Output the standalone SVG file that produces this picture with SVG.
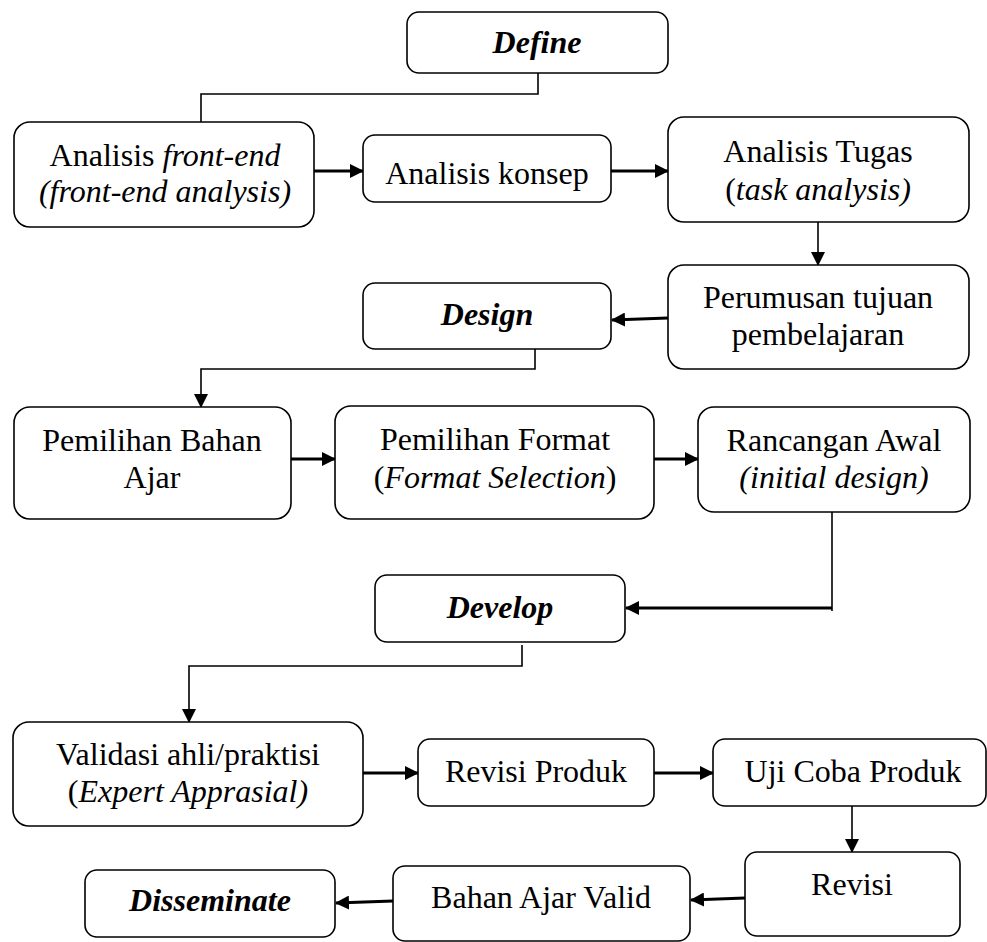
<svg xmlns="http://www.w3.org/2000/svg" width="987" height="942" viewBox="0 0 987 942">
<defs>
<style>
.box{fill:#fff;stroke:#000;stroke-width:1.6}
text{font-family:'Liberation Serif',serif;font-size:32px;fill:#000;text-anchor:middle}
.b{font-weight:bold;font-style:italic}
.i{font-style:italic}
.c{fill:none;stroke:#000;stroke-width:1.6}
.a{fill:none;stroke:#000;stroke-width:3}
</style>
<marker id="ah" markerUnits="userSpaceOnUse" markerWidth="14" markerHeight="14" viewBox="0 0 14 14" refX="13" refY="7" orient="auto">
<path d="M0,0 L14,7 L0,14 Z" fill="#000"/>
</marker>
</defs>
<rect width="987" height="942" fill="#fff"/>
<g id="connectors">
<polyline class="c" points="538,73 538,94 201,94 201,122"/>
<line class="a" x1="314" y1="171" x2="363" y2="171" marker-end="url(#ah)"/>
<line class="a" x1="611" y1="171" x2="668" y2="171" marker-end="url(#ah)"/>
<line class="c" x1="818" y1="222" x2="818" y2="265" marker-end="url(#ah)"/>
<line class="a" x1="668" y1="318" x2="612" y2="320" marker-end="url(#ah)"/>
<polyline class="c" points="535,349 535,369 201,369 201,407" marker-end="url(#ah)"/>
<line class="a" x1="291" y1="459" x2="335" y2="459" marker-end="url(#ah)"/>
<line class="a" x1="654" y1="459" x2="698" y2="459" marker-end="url(#ah)"/>
<line class="c" x1="832" y1="512" x2="832" y2="611"/>
<line class="a" x1="832" y1="608" x2="626" y2="608" marker-end="url(#ah)"/>
<polyline class="c" points="522,645 522,666 189,666 189,722" marker-end="url(#ah)"/>
<line class="a" x1="363" y1="773" x2="418" y2="773" marker-end="url(#ah)"/>
<line class="a" x1="654" y1="773" x2="713" y2="773" marker-end="url(#ah)"/>
<line class="c" x1="852" y1="806" x2="852" y2="852" marker-end="url(#ah)"/>
<line class="a" x1="745" y1="898" x2="691" y2="900" marker-end="url(#ah)"/>
<line class="a" x1="393" y1="901" x2="336" y2="903" marker-end="url(#ah)"/>
</g>
<g id="define">
<rect class="box" x="407" y="12" width="261" height="61" rx="12"/>
<text class="b" x="537" y="53">Define</text>
</g>
<g id="analisis-front-end">
<rect class="box" x="14" y="122" width="300" height="105" rx="16"/>
<text x="165" y="166">Analisis <tspan class="i">front-end</tspan></text>
<text class="i" x="165" y="202">(front-end analysis)</text>
</g>
<g id="analisis-konsep">
<rect class="box" x="363" y="135" width="248" height="67" rx="12"/>
<text x="487" y="184">Analisis konsep</text>
</g>
<g id="analisis-tugas">
<rect class="box" x="668" y="117" width="301" height="105" rx="16"/>
<text x="818" y="162">Analisis Tugas</text>
<text x="818" y="200">(<tspan class="i">task analysis)</tspan></text>
</g>
<g id="perumusan">
<rect class="box" x="668" y="265" width="301" height="104" rx="16"/>
<text x="818" y="308">Perumusan tujuan</text>
<text x="818" y="345">pembelajaran</text>
</g>
<g id="design">
<rect class="box" x="363" y="283" width="248" height="66" rx="12"/>
<text class="b" x="487" y="325">Design</text>
</g>
<g id="pemilihan-bahan">
<rect class="box" x="14" y="407" width="277" height="112" rx="16"/>
<text x="152" y="451">Pemilihan Bahan</text>
<text x="152" y="488">Ajar</text>
</g>
<g id="pemilihan-format">
<rect class="box" x="335" y="406" width="319" height="113" rx="16"/>
<text x="495" y="450">Pemilihan Format</text>
<text x="495" y="488">(<tspan class="i">Format Selection</tspan>)</text>
</g>
<g id="rancangan-awal">
<rect class="box" x="698" y="407" width="272" height="105" rx="16"/>
<text x="834" y="451">Rancangan Awal</text>
<text class="i" x="834" y="488">(initial design)</text>
</g>
<g id="develop">
<rect class="box" x="375" y="575" width="250" height="67" rx="12"/>
<text class="b" x="500" y="618">Develop</text>
</g>
<g id="validasi">
<rect class="box" x="13" y="722" width="350" height="104" rx="16"/>
<text x="188" y="765">Validasi ahli/praktisi</text>
<text x="188" y="802">(<tspan class="i">Expert Apprasial)</tspan></text>
</g>
<g id="revisi-produk">
<rect class="box" x="418" y="739" width="236" height="67" rx="12"/>
<text x="536" y="782">Revisi Produk</text>
</g>
<g id="uji-coba">
<rect class="box" x="713" y="739" width="273" height="67" rx="12"/>
<text x="853" y="782">Uji Coba Produk</text>
</g>
<g id="revisi">
<rect class="box" x="745" y="852" width="215" height="84" rx="12"/>
<text x="852" y="895">Revisi</text>
</g>
<g id="bahan-ajar-valid">
<rect class="box" x="393" y="866" width="297" height="75" rx="12"/>
<text x="541" y="908">Bahan Ajar Valid</text>
</g>
<g id="disseminate">
<rect class="box" x="85" y="870" width="250" height="67" rx="12"/>
<text class="b" x="210" y="911">Disseminate</text>
</g>
</svg>
